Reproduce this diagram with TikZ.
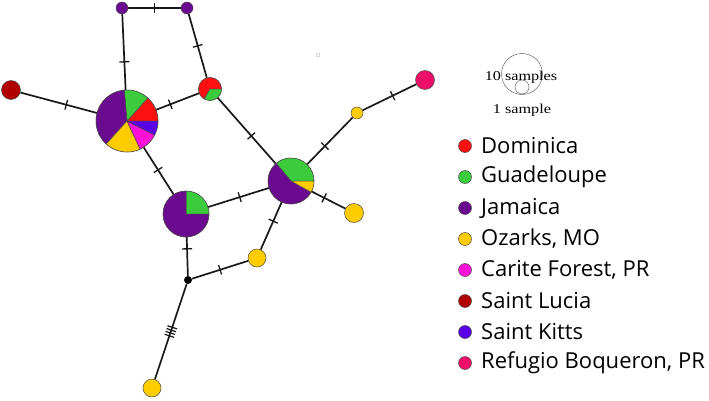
\documentclass[tikz,border=0pt]{standalone}
\usepackage{fontspec}
\newfontfamily\legfont{Open Sans}
\newfontfamily\smpfont[FakeStretch=1.2]{Liberation Serif}
\usetikzlibrary{decorations.markings}

\definecolor{dom}{HTML}{FF1010}
\definecolor{gua}{HTML}{3CCB3C}
\definecolor{jam}{HTML}{6A0A8E}
\definecolor{oza}{HTML}{FFCC00}
\definecolor{car}{HTML}{FF10D8}
\definecolor{luc}{HTML}{B00000}
\definecolor{kit}{HTML}{5A00E6}
\definecolor{ref}{HTML}{EE1068}

\tikzset{
  hap/.style={circle,draw=black!70,line width=0.5pt,inner sep=0pt,minimum size=#1},
  slice/.style={draw=black!70,line width=0.5pt},
  edge/.style={draw=black!90,line width=1.7pt},
  mut/.style={postaction={decorate,decoration={markings,
    mark=at position #1 with {\draw[black!90,line width=1.3pt] (0,-5pt) -- (0,5pt);}}}},
  mut/.default=0.5,
  mutfour/.style={postaction={decorate,decoration={markings,
    mark=at position #1 with {\foreach \d in {-4.5,-1.5,1.5,4.5}
      \draw[black!90,line width=1.2pt] (\d pt,-5pt) -- (\d pt,5pt);}}}}
}

\begin{document}
\begin{tikzpicture}[x=1pt,y=1pt]
    \useasboundingbox (0,0) rectangle (709,400);

    % haplotypes
    \node[hap=12pt,fill=jam]  (J1) at (122,392) {};
    \node[hap=12pt,fill=jam]  (J2) at (187,392) {};
    \node[hap=62pt]           (A)  at (127,279) {};
    \node[hap=19pt,fill=luc]  (SL) at (11,310)  {};
    \node[hap=23pt]           (B)  at (210,311) {};
    \node[hap=46pt]           (C)  at (186,186) {};
    \node[hap=46pt]           (D)  at (291,219) {};
    \node[circle,fill=black,inner sep=0pt,minimum size=8pt] (K) at (188,120) {};
    \node[hap=18pt,fill=oza]  (E)  at (257,142) {};
    \node[hap=19pt,fill=oza]  (F)  at (354,187) {};
    \node[hap=18pt,fill=oza]  (G)  at (152,12)  {};
    \node[hap=12pt,fill=oza]  (H)  at (357,287) {};
    \node[hap=19pt,fill=ref]  (I)  at (425,320) {};
    \node[circle,draw=black!30,line width=0.4pt,inner sep=0pt,minimum size=4pt] (dot) at (318,345) {};

    % pies
    \foreach \a/\b/\c in {0/48/dom,48/95/gua,95/228/jam,228/295/oza,295/333/car,333/360/kit}
      \draw[slice,fill=\c] (A.center) -- ++(\a:31) arc[start angle=\a,end angle=\b,radius=31] -- cycle;
    \foreach \a/\b/\c in {0/240/dom,240/360/gua}
      \draw[slice,fill=\c] (B.center) -- ++(\a:11.5) arc[start angle=\a,end angle=\b,radius=11.5] -- cycle;
    \foreach \a/\b/\c in {0/90/gua,90/360/jam}
      \draw[slice,fill=\c] (C.center) -- ++(\a:23) arc[start angle=\a,end angle=\b,radius=23] -- cycle;
    \foreach \a/\b/\c in {0/130/gua,130/331/jam,331/360/oza}
      \draw[slice,fill=\c] (D.center) -- ++(\a:23) arc[start angle=\a,end angle=\b,radius=23] -- cycle;

    % links
    \draw[edge,mut] (J1) -- (J2);
    \draw[edge,mut=0.63] (J1) -- (A);
    \draw[edge,mut] (J2) -- (B);
    \draw[edge,mut=0.4] (A) -- (SL);
    \draw[edge,mut=0.33] (A) -- (B);
    \draw[edge,mut=0.58] (B) -- (D);
    \draw[edge,mut=0.48] (A) -- (C);
    \draw[edge,mut=0.52] (C) -- (D);
    \draw[edge,mut=0.39] (D) -- (H);
    \draw[edge,mut=0.56] (H) -- (I);
    \draw[edge,mut=0.37] (D) -- (F);
    \draw[edge,mut=0.4] (D) -- (E);
    \draw[edge,mut=0.3] (C) -- (K);
    \draw[edge,mut] (K) -- (E);
    \draw[edge,mutfour=0.5] (K) -- (G);

    % size key
    \node[circle,draw=black!60,line width=0.5pt,inner sep=0pt,minimum size=41pt] (ten) at (522,326) {};
    \node[circle,draw=black!60,line width=0.5pt,inner sep=0pt,minimum size=14pt] (one) at (522,313) {};
    \node[font=\smpfont\fontsize{13.5}{13.5}\selectfont] (tenlab) at (521,323) {10 samples};
    \node[font=\smpfont\fontsize{13.5}{13.5}\selectfont] (onelab) at (522,290) {1 sample};

    % legend
    \foreach \i/\c/\t in {0/dom/Dominica,1/gua/Guadeloupe,2/jam/Jamaica,3/oza/{Ozarks, MO},
                          4/car/{Carite Forest, PR},5/luc/Saint Lucia,6/kit/Saint Kitts,
                          7/ref/{Refugio Boqueron, PR}}
    {
      \node[hap=13pt,fill=\c] (leg\i) at (465,254-31*\i) {};
      \node[anchor=west,inner sep=0pt,font=\legfont\fontsize{22}{22}\selectfont] (txt\i) at (481,254-31*\i) {\t};
    }

\end{tikzpicture}
\end{document}
